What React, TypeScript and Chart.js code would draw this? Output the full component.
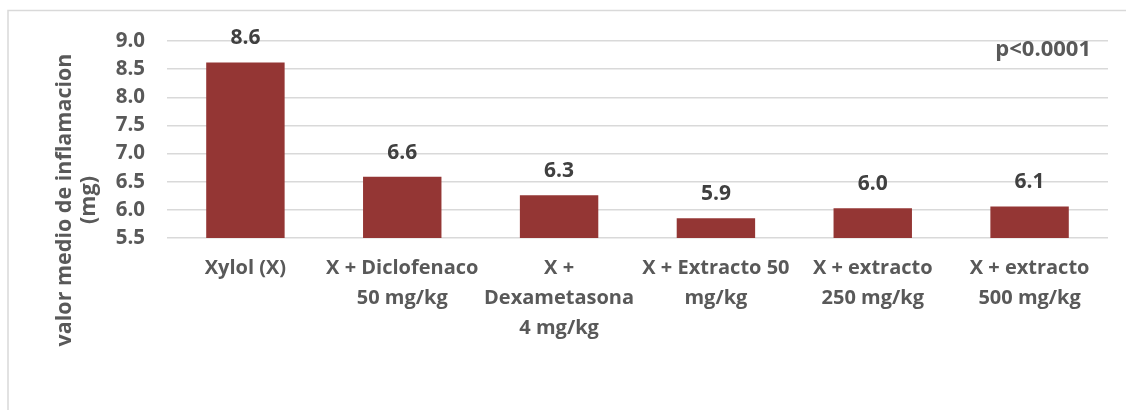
import React, { useEffect, useRef } from "react";
import { Chart, registerables } from "chart.js";

Chart.register(...registerables);

const categories: string[][] = [
  ["Xylol (X)"],
  ["X + Diclofenaco", "50 mg/kg"],
  ["X +", "Dexametasona", "4 mg/kg"],
  ["X + Extracto 50", "mg/kg"],
  ["X + extracto", "250 mg/kg"],
  ["X + extracto", "500 mg/kg"],
];
const values: number[] = [8.62, 6.59, 6.26, 5.85, 6.03, 6.06];
const valueLabels: string[] = ["8.6", "6.6", "6.3", "5.9", "6.0", "6.1"];
const yTitleLines: string[] = ["valor medio de inflamacion", "(mg)"];
const pValueText = "p<0.0001";

const FONT = "'Open Sans', sans-serif";

export default function App() {
  const ref = useRef<HTMLCanvasElement | null>(null);
  useEffect(() => {
    if (!ref.current) return;
    const extras = {
      id: "extras",
      beforeDraw(chart: any) {
        const ctx = chart.ctx;
        ctx.save();
        ctx.strokeStyle = "#d9d9d9";
        ctx.lineWidth = 1.5;
        ctx.beginPath();
        ctx.moveTo(8, 420);
        ctx.lineTo(8, 10.5);
        ctx.lineTo(1130, 10.5);
        ctx.stroke();
        ctx.restore();
      },
      afterDraw(chart: any) {
        const ctx = chart.ctx;
        ctx.save();
        const meta = chart.getDatasetMeta(0);
        ctx.fillStyle = "#404040";
        ctx.font = `bold 21px ${FONT}`;
        ctx.textAlign = "center";
        ctx.textBaseline = "alphabetic";
        meta.data.forEach((bar: any, i: number) => {
          ctx.fillText(valueLabels[i], bar.x, bar.y - 18);
        });
        ctx.fillStyle = "#595959";
        ctx.textAlign = "right";
        ctx.font = `bold 22px ${FONT}`;
        ctx.fillText(pValueText, 1091, 56);
        ctx.font = `bold 21.5px ${FONT}`;
        ctx.textAlign = "center";
        ctx.textBaseline = "alphabetic";
        ctx.save();
        ctx.translate(71, 200);
        ctx.rotate(-Math.PI / 2);
        ctx.fillText(yTitleLines[0], 0, 0);
        ctx.restore();
        ctx.save();
        ctx.translate(95, 200);
        ctx.rotate(-Math.PI / 2);
        ctx.fillText(yTitleLines[1], 0, 0);
        ctx.restore();
        ctx.restore();
      },
    };
    const chart = new Chart(ref.current, {
      type: "bar",
      data: {
        labels: categories,
        datasets: [
          {
            data: values,
            backgroundColor: "#943634",
            borderWidth: 0,
            categoryPercentage: 1,
            barPercentage: 0.5,
          },
        ],
      },
      options: {
        responsive: false,
        animation: false,
        layout: { padding: { top: 41, right: 18, left: 0, bottom: 0 } },
        plugins: { legend: { display: false }, tooltip: { enabled: false } },
        scales: {
          x: {
            grid: { display: false, drawTicks: false },
            border: { display: false },
            ticks: {
              color: "#595959",
              font: { family: FONT, size: 20, weight: "bold", lineHeight: 1.5 },
              padding: 15,
              maxRotation: 0,
              autoSkip: false,
            },
            afterFit: (s: any) => {
              s.height = 172;
            },
          },
          y: {
            min: 5.5,
            max: 9.0,
            grid: { color: "#d9d9d9", lineWidth: 1.5, drawTicks: false },
            border: { display: false },
            ticks: {
              stepSize: 0.5,
              autoSkip: false,
              color: "#595959",
              font: { family: FONT, size: 20.5, weight: "bold", lineHeight: 1 },
              padding: 22,
              callback: (v: any) => Number(v).toFixed(1),
            },
            afterFit: (s: any) => {
              s.width = 167;
            },
          },
        },
      },
      plugins: [extras],
    });
    return () => chart.destroy();
  }, []);
  return (
    <div style={{ position: "fixed", left: 0, top: 0, width: 1126, height: 410, background: "#fff" }}>
      <canvas ref={ref} width={1126} height={410} style={{ display: "block" }} />
    </div>
  );
}
